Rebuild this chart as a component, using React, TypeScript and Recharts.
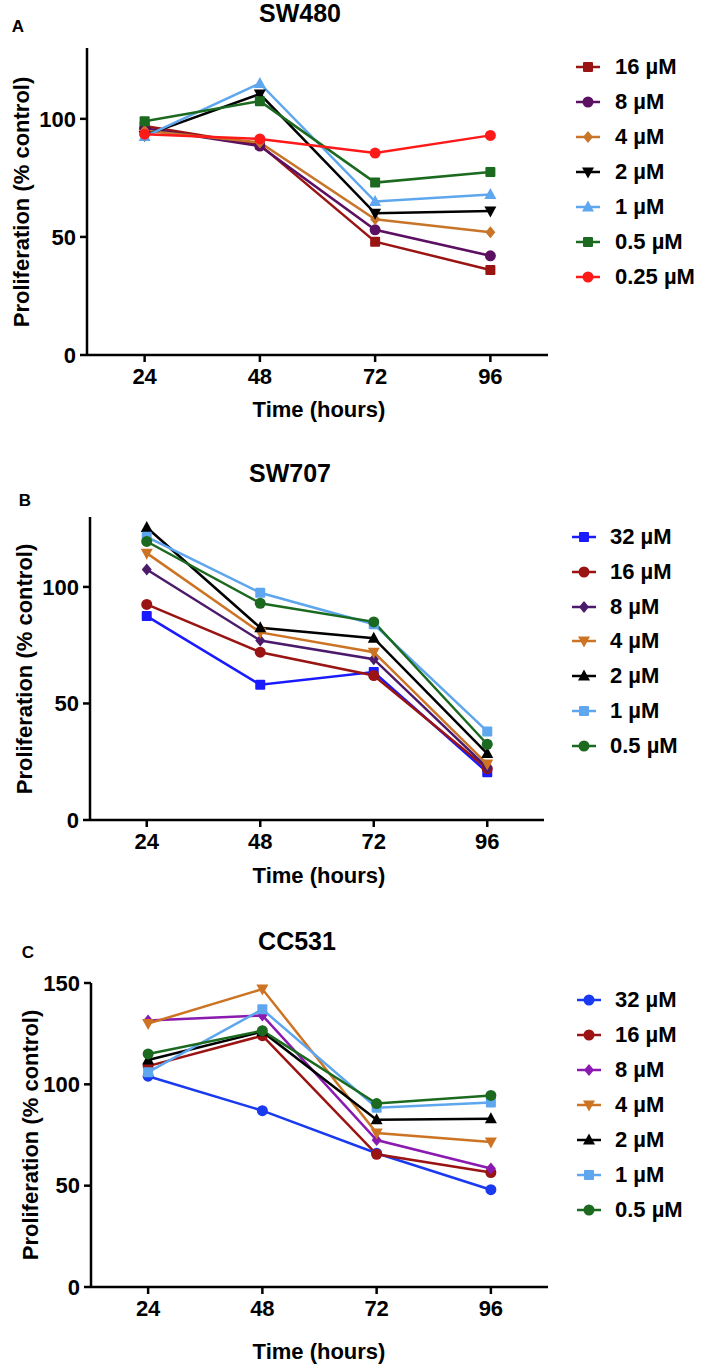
import React from "react";
import { LineChart, Line, XAxis, YAxis } from "recharts";

const FONT = '"Liberation Sans", Arial, Helvetica, sans-serif';

// time points (hours)
const times = [24, 48, 72, 96];

// SW480 values (% control)
const sw480Names = ["16 µM", "8 µM", "4 µM", "2 µM", "1 µM", "0.5 µM", "0.25 µM"];
const sw480_16 = [97, 89, 48, 36];
const sw480_8 = [96, 88.5, 53, 42];
const sw480_4 = [95, 90, 57.5, 52];
const sw480_2 = [93, 110.5, 60, 61];
const sw480_1 = [92.5, 115, 65, 68];
const sw480_05 = [99, 107.5, 73, 77.5];
const sw480_025 = [93.5, 91.5, 85.5, 93];

// SW707 values
const sw707Names = ["32 µM", "16 µM", "8 µM", "4 µM", "2 µM", "1 µM", "0.5 µM"];
const sw707_32 = [87.5, 58, 63.5, 20.5];
const sw707_16 = [92.5, 72, 62, 22];
const sw707_8 = [107.5, 77, 69, 22.5];
const sw707_4 = [114.5, 80.5, 72, 24];
const sw707_2 = [125.5, 82.5, 78, 28.5];
const sw707_1 = [121.5, 97.5, 84, 38];
const sw707_05 = [119.5, 93, 85, 32.5];

// CC531 values
const cc531Names = ["32 µM", "16 µM", "8 µM", "4 µM", "2 µM", "1 µM", "0.5 µM"];
const cc531_32 = [104, 87, 66, 48];
const cc531_16 = [109, 124, 65.5, 56.5];
const cc531_8 = [131.5, 134, 72.5, 58.5];
const cc531_4 = [130, 147, 76, 71.5];
const cc531_2 = [112, 126, 82.5, 83];
const cc531_1 = [106, 137, 88.5, 91];
const cc531_05 = [115, 126.5, 90.5, 94.5];

const yTicksAB = [0, 50, 100];
const yTicksC = [0, 50, 100, 150];

type Shape = "circle" | "square" | "diamond" | "up" | "down";

function Marker({ shape, cx, cy, color }: { shape: Shape; cx: number; cy: number; color: string }) {
  if (shape === "circle") return <circle cx={cx} cy={cy} r={5.5} fill={color} />;
  if (shape === "square")
    return <rect x={cx - 5} y={cy - 5} width={10} height={10} rx={1} fill={color} />;
  if (shape === "diamond")
    return (
      <polygon
        points={`${cx},${cy - 6} ${cx + 5},${cy} ${cx},${cy + 6} ${cx - 5},${cy}`}
        fill={color}
      />
    );
  if (shape === "up")
    return (
      <polygon
        points={`${cx},${cy - 6.5} ${cx + 6},${cy + 4.5} ${cx - 6},${cy + 4.5}`}
        fill={color}
      />
    );
  return (
    <polygon
      points={`${cx},${cy + 6.5} ${cx + 6},${cy - 4.5} ${cx - 6},${cy - 4.5}`}
      fill={color}
    />
  );
}

const panels = [
  {
    title: "SW480",
    letter: "A",
    top: 0,
    height: 440,
    plot: { left: 87, right: 548, top: 48, bottom: 355 },
    yMax: 130,
    yTicks: yTicksAB,
    titlePos: [300, 13],
    letterPos: [18, 26],
    yLabelX: 22,
    xLabelY: 410,
    legend: { x: 576, y: 67, gap: 35, textGap: 15 },
    names: sw480Names,
    values: [sw480_16, sw480_8, sw480_4, sw480_2, sw480_1, sw480_05, sw480_025],
    colors: ["#9a1414", "#5c1062", "#c8752a", "#000000", "#5ea6ee", "#1b6a1f", "#ff1a1a"],
    shapes: ["square", "circle", "diamond", "down", "up", "square", "circle"] as Shape[],
  },
  {
    title: "SW707",
    letter: "B",
    top: 440,
    height: 460,
    plot: { left: 90, right: 544, top: 517, bottom: 820 },
    yMax: 130,
    yTicks: yTicksAB,
    titlePos: [290, 473],
    letterPos: [25, 500],
    yLabelX: 25,
    xLabelY: 876,
    legend: { x: 572, y: 537, gap: 34.8, textGap: 14 },
    names: sw707Names,
    values: [sw707_32, sw707_16, sw707_8, sw707_4, sw707_2, sw707_1, sw707_05],
    colors: ["#1a1aff", "#9a1414", "#4b1a6b", "#cc7424", "#000000", "#5ea6ee", "#1b6a1f"],
    shapes: ["square", "circle", "diamond", "down", "up", "square", "circle"] as Shape[],
  },
  {
    title: "CC531",
    letter: "C",
    top: 900,
    height: 469,
    plot: { left: 91, right: 548, top: 983, bottom: 1287 },
    yMax: 150,
    yTicks: yTicksC,
    titlePos: [297, 941],
    letterPos: [28, 952],
    yLabelX: 31,
    xLabelY: 1352,
    legend: { x: 577, y: 1000, gap: 35, textGap: 14 },
    names: cc531Names,
    values: [cc531_32, cc531_16, cc531_8, cc531_4, cc531_2, cc531_1, cc531_05],
    colors: ["#1a3af0", "#9a1414", "#8a1ab0", "#cc7424", "#000000", "#5ea6ee", "#1b6a1f"],
    shapes: ["circle", "circle", "diamond", "down", "up", "square", "circle"] as Shape[],
  },
];

const textBase: React.CSSProperties = {
  position: "absolute",
  fontFamily: FONT,
  fontWeight: 700,
  color: "#000",
  whiteSpace: "nowrap",
  lineHeight: 1,
};

function Panel({ p }: { p: (typeof panels)[number] }) {
  const data = times.map((t, i) => {
    const row: Record<string, number> = { time: t };
    p.values.forEach((v, k) => {
      row["s" + k] = v[i];
    });
    return row;
  });

  const margin = {
    top: p.plot.top - p.top,
    left: p.plot.left - 60,
    right: 708 - p.plot.right,
    bottom: p.top + p.height - p.plot.bottom - 40,
  };

  const tickStyle = { fill: "#000", fontSize: 22, fontWeight: 700, fontFamily: FONT };
  const axisStyle = { stroke: "#000", strokeWidth: 2.5 };

  return (
    <>
      <div style={{ position: "absolute", left: 0, top: p.top, width: 708, height: p.height }}>
        <LineChart width={708} height={p.height} data={data} margin={margin}>
          <XAxis
            type="number"
            dataKey="time"
            domain={[12, 108]}
            ticks={times}
            height={40}
            tickSize={7}
            tickMargin={6}
            tick={tickStyle}
            axisLine={axisStyle}
            tickLine={axisStyle}
          />
          <YAxis
            type="number"
            domain={[0, p.yMax]}
            ticks={p.yTicks}
            width={60}
            tickSize={7}
            tickMargin={4}
            tick={tickStyle}
            axisLine={axisStyle}
            tickLine={axisStyle}
          />
          {p.values.map((_, k) => (
            <Line
              key={k}
              type="linear"
              dataKey={"s" + k}
              stroke={p.colors[k]}
              strokeWidth={2.5}
              isAnimationActive={false}
              dot={(d: any) => (
                <Marker
                  key={`${k}-${d.index}`}
                  shape={p.shapes[k]}
                  cx={d.cx}
                  cy={d.cy}
                  color={p.colors[k]}
                />
              )}
              activeDot={false}
            />
          ))}
        </LineChart>
      </div>

      <div
        style={{
          ...textBase,
          fontSize: 25,
          left: p.titlePos[0],
          top: p.titlePos[1],
          transform: "translate(-50%, -50%)",
        }}
      >
        {p.title}
      </div>
      <div
        style={{
          ...textBase,
          fontSize: 17,
          left: p.letterPos[0],
          top: p.letterPos[1],
          transform: "translate(-50%, -50%)",
        }}
      >
        {p.letter}
      </div>
      <div
        style={{
          ...textBase,
          fontSize: 22,
          left: p.yLabelX,
          top: (p.plot.top + p.plot.bottom) / 2,
          transform: "translate(-50%, -50%) rotate(-90deg)",
        }}
      >
        Proliferation (% control)
      </div>
      <div
        style={{
          ...textBase,
          fontSize: 22,
          left: 319,
          top: p.xLabelY,
          transform: "translate(-50%, -50%)",
        }}
      >
        Time (hours)
      </div>

      {p.names.map((name, k) => (
        <div
          key={name}
          style={{
            ...textBase,
            fontSize: 22,
            left: p.legend.x,
            top: p.legend.y + k * p.legend.gap,
            transform: "translateY(-50%)",
            display: "flex",
            alignItems: "center",
          }}
        >
          <svg width={24} height={16} style={{ display: "block" }}>
            <line x1={0} y1={8} x2={24} y2={8} stroke={p.colors[k]} strokeWidth={2.5} />
            <Marker shape={p.shapes[k]} cx={12} cy={8} color={p.colors[k]} />
          </svg>
          <span style={{ marginLeft: p.legend.textGap }}>{name}</span>
        </div>
      ))}
    </>
  );
}

export default function App() {
  return (
    <div
      style={{
        position: "absolute",
        left: 0,
        top: 0,
        width: 708,
        height: 1369,
        background: "#fff",
        overflow: "hidden",
      }}
    >
      {panels.map((p) => (
        <Panel key={p.title} p={p} />
      ))}
    </div>
  );
}
